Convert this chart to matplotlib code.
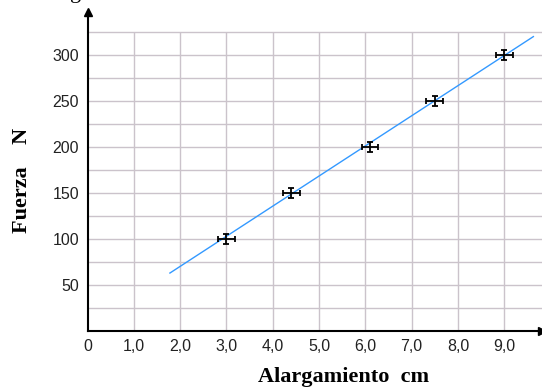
import matplotlib
matplotlib.use("Agg")
import matplotlib.pyplot as plt
import numpy as np

# Data
alargamiento = [3.0, 4.4, 6.1, 7.5, 9.0]      # cm
fuerza = [100, 150, 200, 250, 300]            # N
err_x = [0.18, 0.18, 0.18, 0.18, 0.18]
err_y = [5.5, 5.5, 5.5, 5.5, 5.5]
line_x = [1.78, 9.63]
line_y = [63, 320]
x_ticks = [0, 1, 2, 3, 4, 5, 6, 7, 8, 9]
x_ticklabels = ["0", "1,0", "2,0", "3,0", "4,0", "5,0", "6,0", "7,0", "8,0", "9,0"]
y_ticks = [50, 100, 150, 200, 250, 300]
y_ticklabels = ["50", "100", "150", "200", "250", "300"]
h_grid = [25, 50, 75, 100, 125, 150, 175, 200, 225, 250, 275, 300, 325]
v_grid = [1, 2, 3, 4, 5, 6, 7, 8, 9]

W, H = 542, 389
fig = plt.figure(figsize=(W / 100, H / 100), dpi=100)
x0, y0 = 87.5, 331
ax = fig.add_axes([x0 / W, (H - y0) / H, (W - x0) / W, (y0 - 12) / H])
ax.set_xlim(0, (W - x0) / 46.3)
ax.set_ylim(0, (y0 - 12) / 0.92)

grid_col = "#cbc3cb"
ax.hlines(h_grid, 0, ax.get_xlim()[1], colors=grid_col, linewidth=1.0, zorder=1)
ax.vlines(v_grid, 0, 325, colors=grid_col, linewidth=1.0, zorder=1)

ax.plot(line_x, line_y, color="#3399ff", linewidth=1.0, zorder=2)
ax.errorbar(alargamiento, fuerza, xerr=err_x, yerr=err_y, fmt="none",
            ecolor="black", elinewidth=1.3, capsize=2.2, capthick=1.3, zorder=3)

for s in ["top", "right"]:
    ax.spines[s].set_visible(False)
for s in ["left", "bottom"]:
    ax.spines[s].set_linewidth(1.5)
    ax.spines[s].set_color("black")
ax.plot(1, 0, ">", color="black", markersize=6, transform=ax.transAxes, clip_on=False)
ax.plot(0, 1, "^", color="black", markersize=6, transform=ax.transAxes, clip_on=False)

ax.set_xticks(x_ticks)
ax.set_xticklabels(x_ticklabels)
ax.set_yticks(y_ticks)
ax.set_yticklabels(y_ticklabels)
ax.tick_params(length=0, labelsize=11.5, colors="#222222")
ax.tick_params(axis="x", pad=6)
ax.tick_params(axis="y", pad=6)
for lab in ax.get_xticklabels() + ax.get_yticklabels():
    lab.set_family("Liberation Sans")

fig.text(344 / W, 1 - 377 / H, "Alargamiento  cm", family="Liberation Serif",
         fontweight="bold", fontsize=16, ha="center", va="center")
fig.text(22 / W, 1 - 180 / H, "Fuerza    N", family="Liberation Serif",
         fontweight="bold", fontsize=16, ha="center", va="center", rotation=90)
fig.text(76 / W, 1.006, "g", family="Liberation Serif", fontsize=16,
         ha="center", va="baseline")

fig.savefig("out.png", dpi=100)
